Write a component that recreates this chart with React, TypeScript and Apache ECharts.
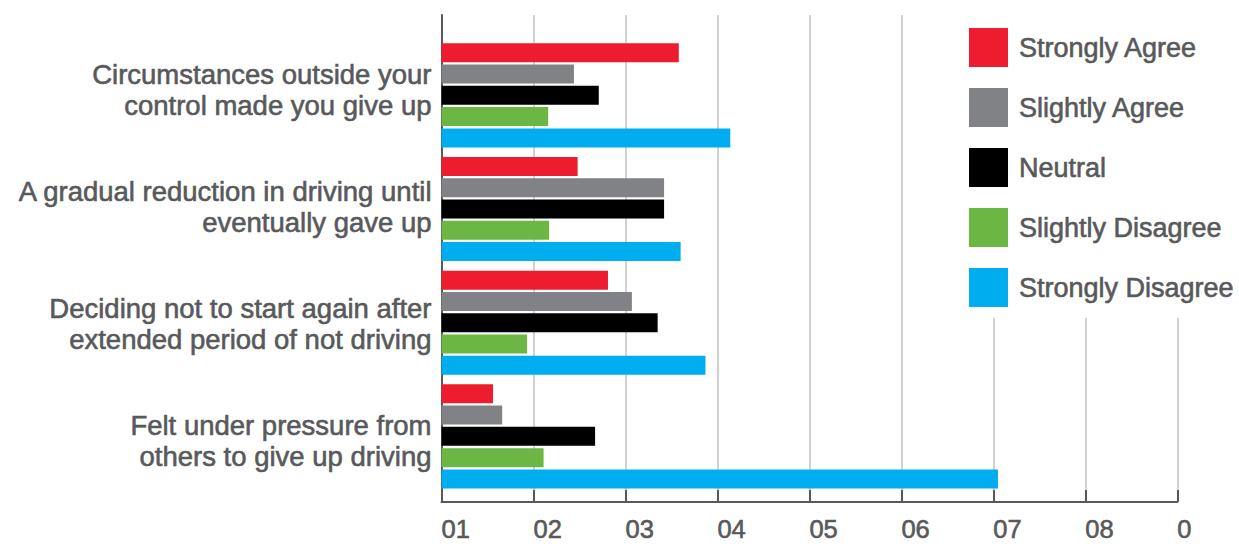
import React, { useEffect, useRef } from "react";
import * as echarts from "echarts";

// Reasons for giving up driving, by level of agreement (%)
const categories = [
  "Circumstances outside your\ncontrol made you give up",
  "A gradual reduction in driving until\neventually gave up",
  "Deciding not to start again after\nextended period of not driving",
  "Felt under pressure from\nothers to give up driving",
];

const seriesNames = [
  "Strongly Agree",
  "Slightly Agree",
  "Neutral",
  "Slightly Disagree",
  "Strongly Disagree",
];

const stronglyAgree = [25.8, 14.8, 18.1, 5.6];
const slightlyAgree = [14.4, 24.2, 20.7, 6.6];
const neutral = [17.1, 24.2, 23.5, 16.7];
const slightlyDisagree = [11.6, 11.7, 9.3, 11.1];
const stronglyDisagree = [31.4, 26.0, 28.7, 60.5];

const xTickLabels = ["01", "02", "03", "04", "05", "06", "07", "08", "0"];

const colors = ["#ed1c2e", "#808285", "#000000", "#6cb644", "#00adee"];

const TEXT = "#58595b";
const FONT = "'Liberation Sans', Arial, Helvetica, sans-serif";

// slight outline in the text colour gives the labels a medium weight
const heavier = { textBorderColor: TEXT, textBorderWidth: 0.6 };

export default function App() {
  const ref = useRef<HTMLDivElement>(null);

  useEffect(() => {
    if (!ref.current) return;
    const chart = echarts.init(ref.current, undefined, { renderer: "svg" });

    const values = [stronglyAgree, slightlyAgree, neutral, slightlyDisagree, stronglyDisagree];
    const plotLeft = 441.5;
    const plotRight = 1239 - 1177.3;

    chart.setOption({
      animation: false,
      backgroundColor: "#ffffff",
      textStyle: { fontFamily: FONT },
      grid: [
        // frame: axes, gridlines, ticks
        { left: plotLeft, right: plotRight, top: 15, bottom: 42 },
        // category labels
        { left: plotLeft, right: plotRight, top: 31, bottom: 45 },
        // bars
        { left: plotLeft, right: plotRight, top: 38.5, bottom: 50.8 },
      ],
      legend: {
        orient: "vertical",
        left: 955,
        top: 0,
        padding: [28, 10, 11, 14],
        backgroundColor: "#ffffff",
        itemWidth: 39,
        itemHeight: 39,
        itemGap: 21,
        icon: "rect",
        data: seriesNames,
        textStyle: {
          fontFamily: FONT,
          fontSize: 27,
          color: TEXT,
          padding: [0, 0, 0, 6],
          ...heavier,
        },
      },
      xAxis: [
        {
          gridIndex: 0,
          type: "value",
          min: 0,
          max: 80,
          interval: 10,
          axisLine: { show: true, lineStyle: { color: TEXT, width: 2 } },
          axisTick: { show: true, inside: true, length: 12, lineStyle: { color: TEXT, width: 2 } },
          splitLine: { show: true, lineStyle: { color: "#c6c6c6", width: 1.6 } },
          axisLabel: {
            show: true,
            align: "left",
            margin: 17,
            lineHeight: 20,
            fontSize: 25.5,
            fontFamily: FONT,
            color: TEXT,
            showMinLabel: true,
            showMaxLabel: true,
            ...heavier,
            formatter: (_v: number, i: number) => xTickLabels[i] ?? "",
          },
        },
        { gridIndex: 1, type: "value", min: 0, max: 80, show: false },
        { gridIndex: 2, type: "value", min: 0, max: 80, show: false },
      ],
      yAxis: [
        {
          gridIndex: 0,
          type: "value",
          min: 0,
          max: 1,
          axisLine: { show: true, lineStyle: { color: TEXT, width: 2 } },
          axisTick: { show: false },
          axisLabel: { show: false },
          splitLine: { show: false },
        },
        {
          gridIndex: 1,
          type: "category",
          inverse: true,
          data: categories,
          axisLine: { show: false },
          axisTick: { show: false },
          splitLine: { show: false },
          axisLabel: {
            margin: 10,
            fontSize: 27.5,
            lineHeight: 31,
            fontFamily: FONT,
            color: TEXT,
            align: "right",
            ...heavier,
          },
        },
        {
          gridIndex: 2,
          type: "category",
          inverse: true,
          data: categories,
          show: false,
        },
      ],
      series: seriesNames.map((name, i) => ({
        name,
        type: "bar",
        xAxisIndex: 2,
        yAxisIndex: 2,
        data: values[i],
        barWidth: 19,
        barGap: "12%",
        itemStyle: { color: colors[i] },
        z: 3,
      })),
    });

    return () => chart.dispose();
  }, []);

  return (
    <div
      ref={ref}
      style={{ position: "fixed", left: 0, top: 0, width: 1239, height: 544, background: "#fff" }}
    />
  );
}
